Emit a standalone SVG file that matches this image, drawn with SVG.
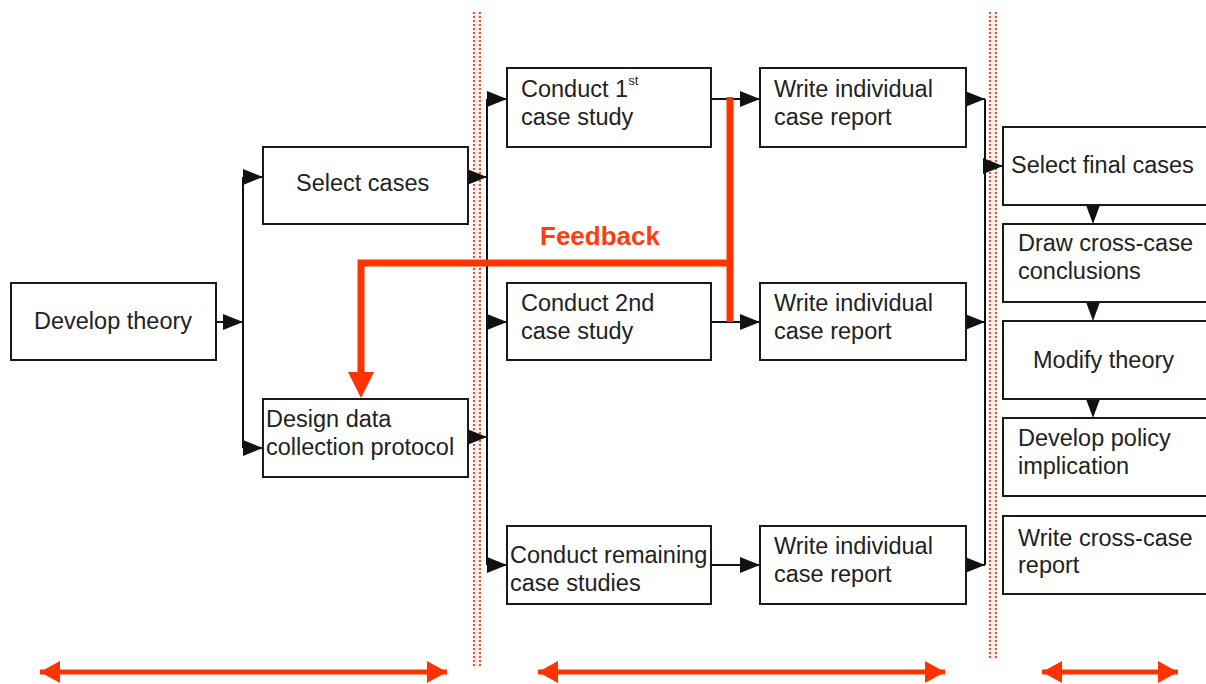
<svg xmlns="http://www.w3.org/2000/svg" width="1206" height="684" viewBox="0 0 1206 684">
  <style>
    .box { fill: #ffffff; stroke: #1a1a1a; stroke-width: 2; }
    .lbl { font-family: "Liberation Sans", Arial, sans-serif; font-size: 23.5px; fill: #222222; }
    .sup { font-size: 13px; }
    .wire { fill: none; stroke: #111111; stroke-width: 2; }
    .arr { fill: none; stroke: #111111; stroke-width: 2; marker-end: url(#tri); }
    .down { fill: #111111; }
    .fb { fill: none; stroke: #ff3300; stroke-width: 7; }
    .span { fill: none; stroke: #ff3300; stroke-width: 5; marker-start: url(#redL); marker-end: url(#redR); }
    .band { fill: #fdeee8; stroke: none; }
    .dots { fill: none; stroke: #e0553a; stroke-width: 2.2; stroke-dasharray: 2 2; }
  </style>
  <defs>
    <marker id="tri" markerUnits="userSpaceOnUse" markerWidth="20" markerHeight="16" refX="20" refY="8" orient="auto">
      <path d="M0,0 L20,8 L0,16 z" fill="#111111"/>
    </marker>
    <marker id="redR" markerUnits="userSpaceOnUse" markerWidth="20" markerHeight="22" refX="20" refY="11" orient="auto">
      <path d="M0,0 L20,11 L0,22 z" fill="#ff3300"/>
    </marker>
    <marker id="redL" markerUnits="userSpaceOnUse" markerWidth="20" markerHeight="22" refX="0" refY="11" orient="auto">
      <path d="M20,0 L0,11 L20,22 z" fill="#ff3300"/>
    </marker>
  </defs>

  <rect width="1206" height="684" fill="#ffffff"/>

  <!-- phase dividers: paired dotted rules -->
  <g id="dividers">
    <rect class="band" x="474" y="12" width="7" height="656"/>
    <path class="dots" d="M474,12 V668 M480,12 V668"/>
    <rect class="band" x="990" y="12" width="7" height="648"/>
    <path class="dots" d="M990,12 V660 M996,12 V660"/>
  </g>

  <!-- connectors -->
  <g id="connectors">
    <!-- develop theory fan-out -->
    <path class="arr" d="M216,322 H243"/>
    <path class="wire" d="M243,177 V448"/>
    <path class="arr" d="M243,177 H263"/>
    <path class="arr" d="M243,448 H263"/>
    <!-- into case-study bus -->
    <path class="arr" d="M468,177 H487"/>
    <path class="arr" d="M468,437 H487"/>
    <path class="wire" d="M487,99 V565"/>
    <path class="arr" d="M487,99 H507"/>
    <path class="arr" d="M487,322 H507"/>
    <path class="arr" d="M487,565 H507"/>
    <!-- case study to report -->
    <path class="arr" d="M711,99 H760"/>
    <path class="arr" d="M711,322 H760"/>
    <path class="arr" d="M711,565 H760"/>
    <!-- reports into final bus -->
    <path class="arr" d="M966,99 H985"/>
    <path class="arr" d="M966,322 H985"/>
    <path class="arr" d="M966,565 H985"/>
    <path class="wire" d="M985,99 V565"/>
    <path class="arr" d="M985,166 H1003"/>
    <!-- analysis chain -->
    <path class="down" d="M1086,205 L1100,205 L1093,224 z"/>
    <path class="down" d="M1086,302 L1100,302 L1093,321 z"/>
    <path class="down" d="M1086,399 L1100,399 L1093,418 z"/>
    <!-- feedback loop -->
    <path class="fb" d="M730,97 V322"/>
    <path class="fb" d="M730,263 H361 V374"/>
    <path d="M348,372 L374,372 L361,398 z" fill="#ff3300"/>
    <!-- phase spans -->
    <path class="span" d="M40,672 H447"/>
    <path class="span" d="M538,672 H945"/>
    <path class="span" d="M1042,672 H1178"/>
  </g>

  <text x="540" y="245" font-family="Liberation Sans, Arial, sans-serif" font-size="26" font-weight="bold" fill="#ff3d10">Feedback</text>

  <g id="develop-theory">
    <rect class="box" x="11" y="283" width="205" height="77"/>
    <text class="lbl" x="34" y="329">Develop theory</text>
  </g>
  <g id="select-cases">
    <rect class="box" x="263" y="147" width="205" height="77"/>
    <text class="lbl" x="296" y="191">Select cases</text>
  </g>
  <g id="design-protocol">
    <rect class="box" x="263" y="399" width="205" height="78"/>
    <text class="lbl" x="266" y="427">Design data</text>
    <text class="lbl" x="266" y="455">collection protocol</text>
  </g>

  <g id="conduct-1">
    <rect class="box" x="507" y="68" width="204" height="79"/>
    <text class="lbl" x="521" y="97">Conduct 1<tspan class="sup" dy="-12">st</tspan></text>
    <text class="lbl" x="521" y="125">case study</text>
  </g>
  <g id="report-1">
    <rect class="box" x="760" y="68" width="206" height="79"/>
    <text class="lbl" x="774" y="97">Write individual</text>
    <text class="lbl" x="774" y="125">case report</text>
  </g>
  <g id="conduct-2">
    <rect class="box" x="507" y="283" width="204" height="77"/>
    <text class="lbl" x="521" y="311">Conduct 2nd</text>
    <text class="lbl" x="521" y="339">case study</text>
  </g>
  <g id="report-2">
    <rect class="box" x="760" y="283" width="206" height="77"/>
    <text class="lbl" x="774" y="311">Write individual</text>
    <text class="lbl" x="774" y="339">case report</text>
  </g>
  <g id="conduct-rest">
    <rect class="box" x="507" y="526" width="204" height="78"/>
    <text class="lbl" x="510" y="563">Conduct remaining</text>
    <text class="lbl" x="510" y="591">case studies</text>
  </g>
  <g id="report-3">
    <rect class="box" x="760" y="526" width="206" height="78"/>
    <text class="lbl" x="774" y="554">Write individual</text>
    <text class="lbl" x="774" y="582">case report</text>
  </g>

  <g id="select-final">
    <rect class="box" x="1003" y="127" width="210" height="78"/>
    <text class="lbl" x="1011" y="173">Select final cases</text>
  </g>
  <g id="cross-case">
    <rect class="box" x="1003" y="224" width="210" height="78"/>
    <text class="lbl" x="1018" y="251">Draw cross-case</text>
    <text class="lbl" x="1018" y="279">conclusions</text>
  </g>
  <g id="modify-theory">
    <rect class="box" x="1003" y="321" width="210" height="78"/>
    <text class="lbl" x="1033" y="368">Modify theory</text>
  </g>
  <g id="policy">
    <rect class="box" x="1003" y="418" width="210" height="78"/>
    <text class="lbl" x="1018" y="446">Develop policy</text>
    <text class="lbl" x="1018" y="474">implication</text>
  </g>
  <g id="cross-report">
    <rect class="box" x="1003" y="516" width="210" height="78"/>
    <text class="lbl" x="1018" y="546">Write cross-case</text>
    <text class="lbl" x="1018" y="573">report</text>
  </g>
</svg>
